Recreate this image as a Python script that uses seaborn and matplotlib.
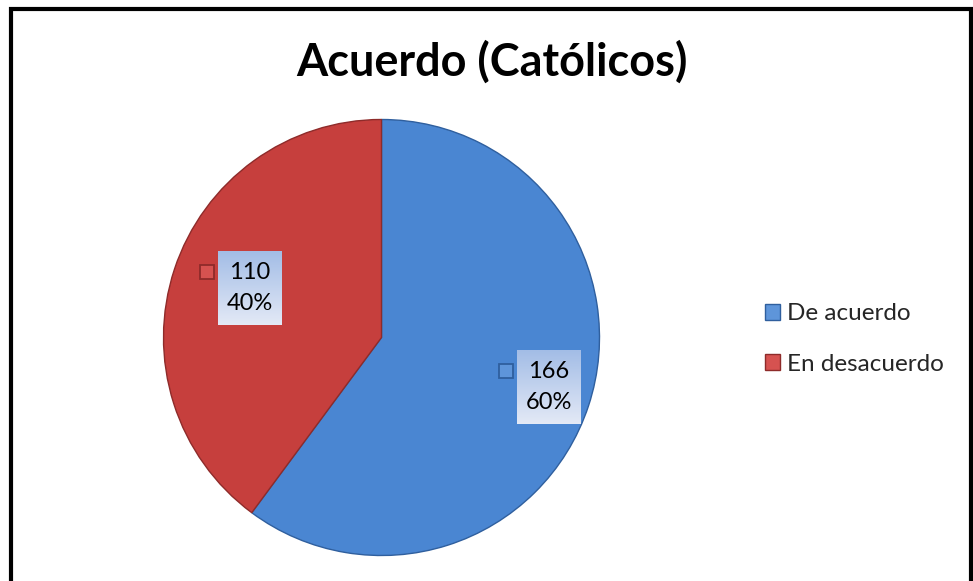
import numpy as np
import matplotlib
matplotlib.use("Agg")
import matplotlib.pyplot as plt
import seaborn as sns
from matplotlib.patches import Rectangle
from matplotlib.lines import Line2D
from matplotlib.colors import LinearSegmentedColormap

sns.set_theme(style="white")
plt.rcParams['font.family'] = ['Lato', 'DejaVu Sans']

categories = ["De acuerdo", "En desacuerdo"]
values = [166, 110]
percent_labels = ["60%", "40%"]
title = "Acuerdo (Católicos)"
colors = ["#4A86D2", "#C63F3D"]
edge_colors = ["#2F5F9E", "#8E2B2A"]
marker_colors = ["#5E95DA", "#D65250"]

W, H = 973, 581
fig = plt.figure(figsize=(W / 100, H / 100), dpi=100)
fig.patch.set_facecolor("white")

# figure border (open at the bottom)
fig.add_artist(Line2D([11 / W, 11 / W, 971 / W, 971 / W],
                      [0, 1 - 9 / H, 1 - 9 / H, 0],
                      transform=fig.transFigure, color="black", lw=3.0,
                      solid_joinstyle="miter"))

cx, cy, r = 381.5, 337.5, 218.0
ax = fig.add_axes([(cx - r) / W, (H - cy - r) / H, 2 * r / W, 2 * r / H])
wedges, _ = ax.pie(values, colors=colors, startangle=90, counterclock=False,
                   radius=1.0, wedgeprops=dict(linewidth=1.0))
for w, ec in zip(wedges, edge_colors):
    w.set_edgecolor(ec)

# data labels with gradient boxes
grad = LinearSegmentedColormap.from_list("g", ["#E3E9F6", "#A3BDE6"])
label_r = [0.80, 0.645]
label_ang_shift = [1.8, -2.5]
box_w, box_h = 64 / r, 74 / r
total = sum(values)
start = 90.0
for i, (v, p) in enumerate(zip(values, percent_labels)):
    span = 360.0 * v / total
    mid = np.deg2rad(start - span / 2 + label_ang_shift[i])
    start -= span
    x, y = label_r[i] * np.cos(mid), label_r[i] * np.sin(mid)
    g = np.linspace(0, 1, 64).reshape(-1, 1)
    ax.imshow(g, cmap=grad, origin="lower", aspect="auto",
              extent=(x - box_w / 2, x + box_w / 2, y - box_h / 2, y + box_h / 2),
              zorder=3, interpolation="bilinear")
    ax.text(x, y, f"{v}\n{p}", ha="center", va="center", fontsize=17,
            linespacing=1.6, color="black", zorder=4)
    ms = 14 / r
    ax.add_patch(Rectangle((x - box_w / 2 - 4 / r - ms, y + box_h / 2 - 14 / r - ms),
                           ms, ms, facecolor=marker_colors[i],
                           edgecolor=edge_colors[i], lw=1.3, zorder=4))

ax.set_xlim(-1, 1)
ax.set_ylim(-1, 1)
ax.set_aspect("equal")
ax.axis("off")

fig.text(492 / W, 1 - 62 / H, title, ha="center", va="center",
         fontsize=32.4, fontweight="bold", color="black")

handles = [Rectangle((0, 0), 1, 1, facecolor=mc, edgecolor=ec, lw=1.0)
           for mc, ec in zip(marker_colors, edge_colors)]
fig.legend(handles, categories, loc="center left",
           bbox_to_anchor=(765 / W, 1 - 339 / H), frameon=False,
           fontsize=17.5, handlelength=0.6, handleheight=0.6,
           handletextpad=0.3, labelspacing=1.2, borderaxespad=0,
           borderpad=0)

fig.savefig("out.png", dpi=100, facecolor="white")
